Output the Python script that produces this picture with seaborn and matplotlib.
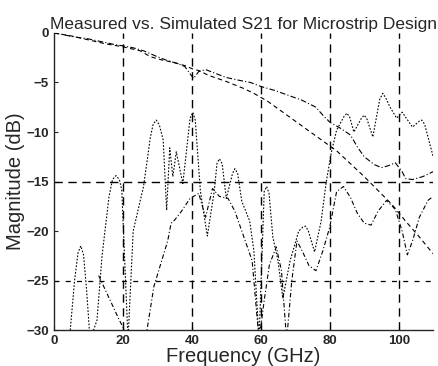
import numpy as np
import pandas as pd
import matplotlib
matplotlib.use("Agg")
import matplotlib.pyplot as plt
import seaborn as sns

# S21 measured (dash-dot)
s21_meas_f = [0, 3, 6, 10, 14, 18, 20, 23, 26, 28, 30, 33, 36, 38, 40.5, 42, 44, 47, 50, 54, 57, 60,
              64, 68, 72, 76, 78, 80, 83, 86, 88, 90, 93, 95, 97, 99, 101, 102, 104, 107, 110]
s21_meas_db = [0, -0.2, -0.4, -0.6, -0.9, -1.2, -1.3, -1.5, -1.8, -2.1, -2.4, -2.8, -3.1, -3.4, -4.6, -3.9,
               -3.7, -4.1, -4.5, -4.8, -5.0, -5.4, -5.8, -6.3, -6.8, -7.5, -8.3, -9.0, -9.6, -10.3, -11.5,
               -12.5, -13.3, -13.6, -13.4, -13.1, -14.0, -14.7, -14.8, -14.5, -14.0]

# S21 simulated (dashed)
s21_sim_f = [0, 5, 10, 15, 20, 25, 28, 31, 35, 38, 40, 42, 45, 50, 55, 58, 62, 66, 70, 74, 78, 82, 86,
             90, 94, 98, 102, 106, 110]
s21_sim_db = [0, -0.3, -0.7, -1.1, -1.4, -1.8, -2.4, -2.7, -3.0, -3.3, -3.6, -3.8, -4.3, -4.9, -5.6, -6.1,
              -6.9, -7.9, -8.9, -9.9, -10.9, -11.9, -13.2, -14.5, -15.9, -17.3, -19.0, -20.6, -22.3]

# first ripple trace (dotted)
ripple_a_f = [4.5, 6, 7, 7.8, 8.6, 9.5, 10.5, 12.5, 14, 16, 17, 18, 19, 19.7, 21.5, 23, 26, 28, 28.8,
              29.7, 30.6, 31.7, 32.7, 33.6, 34.5, 35.5, 37.4, 39.5, 40.3, 41, 42.5, 44.5, 46.5, 47.3,
              48, 48.8, 50, 51.8, 52.5, 53.3, 54.5, 56.8, 58, 59.5, 61, 61.7, 62.4, 63.5, 65, 66.4,
              68.5, 71, 72.2, 73, 73.8, 75.6, 77.5, 79, 80.5, 82, 84.2, 85, 85.8, 87, 89.2, 90, 90.8,
              92.5, 94.5, 95.4, 96.3, 97.5, 99.4, 101, 104, 106, 106.7, 107.5, 108.5, 110]
ripple_a_db = [-31, -25, -22.2, -21.5, -22.4, -26, -31, -29, -22.4, -16.5, -14.8, -14.4, -14.8, -15.9,
               -31, -20, -15.5, -10.5, -9.2, -8.8, -9.3, -10.8, -17.9, -11.6, -14.5, -12.0, -15.2,
               -8.6, -8.0, -8.8, -16.0, -20.5, -16, -13.2, -12.7, -13.2, -16.7, -14.2, -13.7, -14.2,
               -17.0, -19.0, -22.0, -31, -16.0, -15.5, -16.2, -20.6, -23.0, -26.8, -23.0, -20.0, -19.6,
               -19.5, -20.0, -22.1, -19.0, -15.0, -12.0, -9.8, -8.4, -8.1, -8.5, -10.0, -8.6, -8.3,
               -8.7, -10.5, -6.7, -6.1, -6.6, -7.5, -8.6, -8.0, -9.5, -8.9, -8.8, -9.2, -10.5, -12.5]

# second ripple trace (dash-dot)
ripple_b_f = [13, 15, 17, 19, 20.5, 22, 23.5, 25, 27, 29, 31, 33, 34, 35, 37, 39.5, 42, 44, 46, 48, 50.5,
              52.5, 55, 57.5, 59.5, 61, 62.5, 64.5, 66, 67.5, 69, 70.5, 72, 74, 76, 78, 80, 82, 84, 86,
              88, 90, 92, 94, 96.5, 99, 101, 102.5, 104, 106, 108.5, 110]
ripple_b_db = [-24.5, -26, -27.5, -29, -30, -31.5, -32, -31.5, -30, -25.6, -23.3, -21, -19.2, -18.9, -18.0,
               -16.7, -16.2, -18.6, -15.7, -16.5, -16.7, -18, -20.5, -23, -31, -27, -23.4, -21.6, -24,
               -31, -25, -21, -22, -23.5, -24, -22, -19.6, -16, -15.5, -16.6, -18.2, -19.2, -19.4, -18,
               -16.9, -17.8, -20, -22.4, -21, -18.6, -16.9, -16.5]

x_ticks = [0, 20, 40, 60, 80, 100]
y_ticks = [0, -5, -10, -15, -20, -25, -30]
grid_x = [20, 40, 60, 80, 100]

sns.set_style("ticks")
plt.rcParams['font.family'] = ['Liberation Sans', 'DejaVu Sans']

fig = plt.figure(figsize=(4.38, 3.66), dpi=100)
ax = fig.add_axes([0.123, 0.098, 0.866, 0.812])

for gx in grid_x:
    ax.axvline(gx, color='black', linestyle=(0, (6, 4)), linewidth=1.0, zorder=1)
ax.axhline(-15, color='black', linestyle=(0, (6, 4)), linewidth=1.0, zorder=1)
ax.axhline(-25, color='black', linestyle=(0, (4, 5)), linewidth=0.9, zorder=1)

traces = [
    (s21_meas_f, s21_meas_db, (0, (5, 2, 1, 2))),
    (s21_sim_f, s21_sim_db, (0, (4, 3))),
    (ripple_a_f, ripple_a_db, (0, (1.5, 1.5))),
    (ripple_b_f, ripple_b_db, (0, (4, 2, 1, 2))),
]
for f, v, ls in traces:
    df = pd.DataFrame({'f': f, 'v': v})
    sns.lineplot(data=df, x='f', y='v', ax=ax, color='black', linewidth=0.8,
                 linestyle=ls, sort=False, estimator=None)

ax.set_xlim(0, 110)
ax.set_ylim(-30, 0)
ax.set_xticks(x_ticks)
ax.set_yticks(y_ticks)
ax.tick_params(direction='in', length=3, width=0.8, labelsize=9.5)
for lab in ax.get_xticklabels() + ax.get_yticklabels():
    lab.set_fontweight('bold')
sns.despine(ax=ax)
ax.spines['left'].set_linewidth(1.0)
ax.spines['bottom'].set_linewidth(1.0)

ax.set_xlabel('Frequency (GHz)', fontsize=14.5, labelpad=0)
ax.set_ylabel('Magnitude (dB)', fontsize=14.5, labelpad=1)
ax.set_title('Measured vs. Simulated S21 for Microstrip Design', fontsize=12.5, pad=3)

fig.savefig('out.png', dpi=100)
